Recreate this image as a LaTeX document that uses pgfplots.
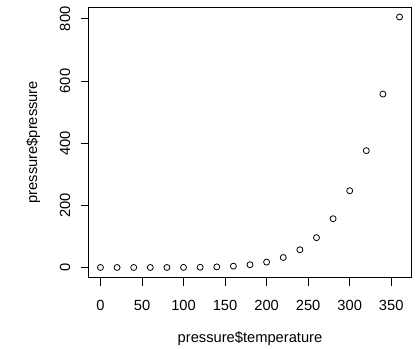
\documentclass[border=0pt]{standalone}
\usepackage{fontspec}
\setmainfont{Liberation Sans}
\usepackage{pgfplots}
\pgfplotsset{compat=1.18}
\begin{document}
\begin{tikzpicture}
\useasboundingbox (0,0) rectangle (418bp,349bp);
\begin{axis}[
  at={(88.5bp,71.5bp)}, anchor=south west,
  scale only axis, width=323bp, height=270.5bp,
  xmin=-14.4, xmax=374.4, ymin=-32.24, ymax=838.24,
  xtick={0,50,...,350}, ytick={0,200,...,800},
  tick align=outside, major tick length=8bp,
  xtick pos=left, ytick pos=left,
  axis line style={line width=0.8bp},
  tick style={draw=black, line width=1bp},
  major tick style={draw=black, line width=1bp},
  /pgf/number format/assume math mode=true,
  /pgf/number format/1000 sep={},
  tick label style={font=\fontsize{14.7bp}{17bp}\selectfont},
  x tick label style={anchor=center, yshift=-20bp},
  y tick label style={anchor=center, xshift=-15.5bp, rotate=90},
  label style={font=\fontsize{14.7bp}{17bp}\selectfont},
  xlabel={pressure\$temperature},
  ylabel={pressure\$pressure},
  xlabel style={at={(axis description cs:0.5,-0.225)}, anchor=center},
  ylabel style={at={(axis description cs:-0.171,0.5)}, anchor=center, rotate=0},
]
\addplot[only marks, mark=o, mark size=3bp, mark options={line width=0.8bp}, black] coordinates {
(0,0.0002) (20,0.0012) (40,0.006) (60,0.03) (80,0.09) (100,0.27) (120,0.75) (140,1.85) (160,4.2) (180,8.8) (200,17.3) (220,32.1) (240,57) (260,96) (280,157) (300,247) (320,376) (340,558) (360,806)
};
\end{axis}
\end{tikzpicture}
\end{document}
